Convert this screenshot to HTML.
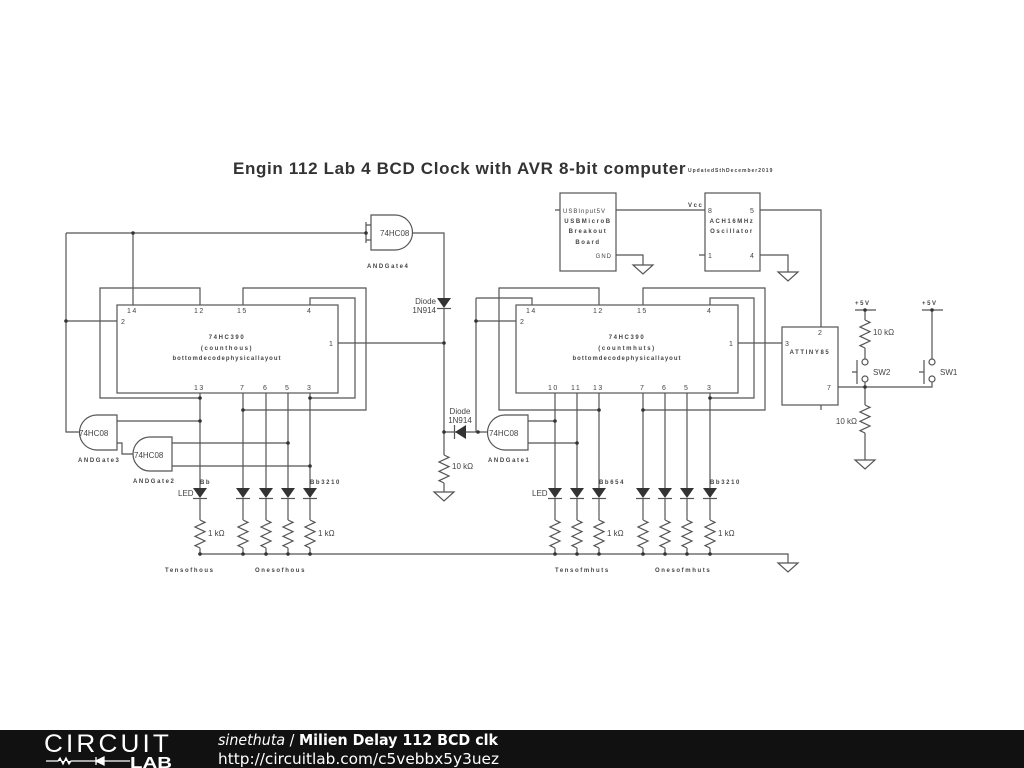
<!DOCTYPE html>
<html><head><meta charset="utf-8"><style>
html,body{margin:0;padding:0;background:#fff;width:1024px;height:768px;overflow:hidden}
svg{display:block}
text{font-family:"Liberation Sans",sans-serif;fill:#444}
.s{font-size:6px;letter-spacing:1.6px;font-weight:bold}
.p{font-size:7px;letter-spacing:1.5px}
.l{font-size:8px}
</style></head><body>
<svg width="1024" height="768" viewBox="0 0 1024 768">
<defs>
<g id="res"><path d="M0 0 l5 2.33 l-10 4.67 l10 4.67 l-10 4.67 l10 4.67 l-10 4.67 l5 2.33" fill="none" stroke="#555" stroke-width="1.2"/></g>
<g id="led"><path d="M-7 0 H7 L0 10 Z" fill="#333"/><path d="M-7 10.5 H7" stroke="#555" stroke-width="1.2"/></g>
<g id="gnd"><path d="M-10 0 H10 L0 9 Z" fill="#fff" stroke="#555" stroke-width="1.2"/></g>
</defs>
<g fill="none" stroke="#555" stroke-width="1.2">
<path d="M66 233 H366 M366 222 V243 M366 225 H371 M366 240 H371"/>
<path d="M371 215 H395 A17.5 17.5 0 0 1 395 250 H371 Z"/>
<path d="M412 233 H444 V298 M444 308 V455 M444 483 V492"/>
<path d="M133 233 V305 M66 233 V432 H79 M66 321 H117"/>
<path d="M200 305 V288 H100 V398 H200"/>
<path d="M243 305 V288 H366 V410 H243"/>
<path d="M310 305 V298 H355 V398 H310"/>
<path d="M338 343 H444"/>
<rect x="117" y="305" width="221" height="88"/>
<path d="M200 393 V488 M243 393 V488 M266 393 V488 M288 393 V488 M310 393 V488"/>
<path d="M117 415 H97 A17.5 17.5 0 0 0 97 450 H117 Z"/>
<path d="M117 421 H200 M117 443 H122 V454 H133"/>
<path d="M172 437 H150 A17 17 0 0 0 150 471 H172 Z"/>
<path d="M172 443 H288 M172 466 H310"/>
<path d="M200 498 V520 M243 498 V520 M266 498 V520 M288 498 V520 M310 498 V520"/>
<path d="M200 548 V554 M243 548 V554 M266 548 V554 M288 548 V554 M310 548 V554"/>
<path d="M200 554 H788 V563"/>
<path d="M444 432 H488"/>
<path d="M476 321 H516 M476 298 H532 V305 M476 298 V432"/>
<path d="M528 415 H505 A17.5 17.5 0 0 0 505 450 H528 Z"/>
<path d="M528 421 H555 M528 443 H577"/>
<rect x="516" y="305" width="222" height="88"/>
<path d="M599 305 V288 H499 V410 H599"/>
<path d="M643 305 V288 H765 V410 H643"/>
<path d="M710 305 V298 H754 V398 H710"/>
<path d="M738 343 H782"/>
<path d="M555 393 V488 M577 393 V488 M599 393 V488 M643 393 V488 M665 393 V488 M687 393 V488 M710 393 V488"/>
<path d="M555 498 V520 M577 498 V520 M599 498 V520 M643 498 V520 M665 498 V520 M687 498 V520 M710 498 V520"/>
<path d="M555 548 V554 M577 548 V554 M599 548 V554 M643 548 V554 M665 548 V554 M687 548 V554 M710 548 V554"/>
<rect x="560" y="193" width="56" height="78"/>
<rect x="705" y="193" width="55" height="78"/>
<path d="M555 210 H560 M616 210 H705 M616 255 H643 V265 M699 255 H705 M760 210 H821 V327 M760 255 H788 V272"/>
<rect x="782" y="327" width="56" height="78"/>
<path d="M821 405 V410 M838 387 H932 V382 M932 359 V310 M922 310 H943 M855 310 H876 M865 310 V320 M865 348 V359 M865 382 V405 M865 433 V460"/>
<circle cx="865" cy="362" r="3" fill="#fff"/><circle cx="865" cy="379" r="3" fill="#fff"/>
<circle cx="932" cy="362" r="3" fill="#fff"/><circle cx="932" cy="379" r="3" fill="#fff"/>
<path d="M857 360 V384 M852 372 H857 M924 360 V384 M919 372 H924"/>
</g>
<path d="M437 298 H451 L444 308 Z" fill="#333"/><path d="M437 308.5 H451" stroke="#555" stroke-width="1.2"/>
<path d="M466 425 V439 L455 432 Z" fill="#333"/><path d="M454.5 425 V439" stroke="#555" stroke-width="1.2"/>
<use href="#res" x="444" y="455"/><use href="#res" x="865" y="320"/><use href="#res" x="865" y="405"/>
<g>
<use href="#led" x="200" y="488"/><use href="#led" x="243" y="488"/><use href="#led" x="266" y="488"/><use href="#led" x="288" y="488"/><use href="#led" x="310" y="488"/>
<use href="#led" x="555" y="488"/><use href="#led" x="577" y="488"/><use href="#led" x="599" y="488"/><use href="#led" x="643" y="488"/><use href="#led" x="665" y="488"/><use href="#led" x="687" y="488"/><use href="#led" x="710" y="488"/>
<use href="#res" x="200" y="520"/><use href="#res" x="243" y="520"/><use href="#res" x="266" y="520"/><use href="#res" x="288" y="520"/><use href="#res" x="310" y="520"/>
<use href="#res" x="555" y="520"/><use href="#res" x="577" y="520"/><use href="#res" x="599" y="520"/><use href="#res" x="643" y="520"/><use href="#res" x="665" y="520"/><use href="#res" x="687" y="520"/><use href="#res" x="710" y="520"/>
</g>
<use href="#gnd" x="444" y="492"/><use href="#gnd" x="788" y="563"/><use href="#gnd" x="643" y="265"/><use href="#gnd" x="788" y="272"/><use href="#gnd" x="865" y="460"/>
<g fill="#333">
<circle cx="133" cy="233" r="1.8"/><circle cx="366" cy="233" r="1.8"/><circle cx="66" cy="321" r="1.8"/><circle cx="444" cy="343" r="1.8"/>
<circle cx="200" cy="398" r="1.8"/><circle cx="243" cy="410" r="1.8"/><circle cx="310" cy="398" r="1.8"/><circle cx="200" cy="421" r="1.8"/>
<circle cx="288" cy="443" r="1.8"/><circle cx="310" cy="466" r="1.8"/><circle cx="444" cy="432" r="1.8"/><circle cx="478" cy="432" r="1.8"/>
<circle cx="476" cy="321" r="1.8"/><circle cx="599" cy="410" r="1.8"/><circle cx="643" cy="410" r="1.8"/><circle cx="710" cy="398" r="1.8"/>
<circle cx="555" cy="421" r="1.8"/><circle cx="577" cy="443" r="1.8"/><circle cx="865" cy="387" r="1.8"/><circle cx="865" cy="310" r="1.8"/><circle cx="932" cy="310" r="1.8"/>
<circle cx="200" cy="554" r="1.8"/><circle cx="243" cy="554" r="1.8"/><circle cx="266" cy="554" r="1.8"/><circle cx="288" cy="554" r="1.8"/><circle cx="310" cy="554" r="1.8"/>
<circle cx="555" cy="554" r="1.8"/><circle cx="577" cy="554" r="1.8"/><circle cx="599" cy="554" r="1.8"/><circle cx="643" cy="554" r="1.8"/><circle cx="665" cy="554" r="1.8"/><circle cx="687" cy="554" r="1.8"/><circle cx="710" cy="554" r="1.8"/>
</g>
<text x="233" y="174" style="font-size:17px;font-weight:bold;fill:#333;letter-spacing:0.65px">Engin 112 Lab 4 BCD Clock with AVR 8-bit computer</text>
<text x="688" y="172" class="s" style="font-size:5px;letter-spacing:1px">UpdatedSthDecember2019</text>
<text x="380" y="236" style="font-size:8px">74HC08</text>
<text x="367" y="268" class="s">ANDGate4</text>
<text x="79" y="436" style="font-size:8px">74HC08</text>
<text x="78" y="462" class="s">ANDGate3</text>
<text x="134" y="458" style="font-size:8px">74HC08</text>
<text x="133" y="483" class="s">ANDGate2</text>
<text x="489" y="436" style="font-size:8px">74HC08</text>
<text x="488" y="462" class="s">ANDGate1</text>
<text x="436" y="304" class="l" text-anchor="end">Diode</text><text x="436" y="313" class="l" text-anchor="end">1N914</text>
<text x="460" y="414" class="l" text-anchor="middle">Diode</text><text x="460" y="423" class="l" text-anchor="middle">1N914</text>
<text x="452" y="469" class="l">10 kΩ</text>
<text x="873" y="335" class="l">10 kΩ</text>
<text x="857" y="424" class="l" text-anchor="end">10 kΩ</text>
<text x="873" y="375" class="l">SW2</text><text x="940" y="375" class="l">SW1</text>
<text x="855" y="305" class="s">+5V</text><text x="922" y="305" class="s">+5V</text>
<text x="208" y="536" class="l">1 kΩ</text><text x="318" y="536" class="l">1 kΩ</text>
<text x="607" y="536" class="l">1 kΩ</text><text x="718" y="536" class="l">1 kΩ</text>
<text x="178" y="496" class="l">LED</text><text x="532" y="496" class="l">LED</text>
<text x="200" y="484" class="s">Bb</text><text x="310" y="484" class="s">Bb3210</text>
<text x="599" y="484" class="s">Bb654</text><text x="710" y="484" class="s">Bb3210</text>
<text x="165" y="572" class="s">Tensofhous</text><text x="255" y="572" class="s">Onesofhous</text>
<text x="555" y="572" class="s">Tensofmhuts</text><text x="655" y="572" class="s">Onesofmhuts</text>
<text x="127" y="313" class="p">14</text><text x="194" y="313" class="p">12</text><text x="237" y="313" class="p">15</text><text x="307" y="313" class="p">4</text>
<text x="121" y="324" class="p">2</text><text x="329" y="346" class="p">1</text>
<text x="194" y="390" class="p">13</text><text x="240" y="390" class="p">7</text><text x="263" y="390" class="p">6</text><text x="285" y="390" class="p">5</text><text x="307" y="390" class="p">3</text>
<text x="227" y="339" class="s" text-anchor="middle">74HC390</text>
<text x="227" y="350" class="s" text-anchor="middle">(counthous)</text>
<text x="227" y="360" class="s" text-anchor="middle" style="letter-spacing:1px">bottomdecodephysicallayout</text>
<text x="526" y="313" class="p">14</text><text x="593" y="313" class="p">12</text><text x="637" y="313" class="p">15</text><text x="707" y="313" class="p">4</text>
<text x="520" y="324" class="p">2</text><text x="729" y="346" class="p">1</text>
<text x="548" y="390" class="p">10</text><text x="571" y="390" class="p">11</text><text x="593" y="390" class="p">13</text><text x="640" y="390" class="p">7</text><text x="662" y="390" class="p">6</text><text x="684" y="390" class="p">5</text><text x="707" y="390" class="p">3</text>
<text x="627" y="339" class="s" text-anchor="middle">74HC390</text>
<text x="627" y="350" class="s" text-anchor="middle">(countmhuts)</text>
<text x="627" y="360" class="s" text-anchor="middle" style="letter-spacing:1px">bottomdecodephysicallayout</text>
<text x="563" y="213" class="p" style="font-size:6px;letter-spacing:1px">USBInput5V</text>
<text x="588" y="223" class="s" text-anchor="middle">USBMicroB</text>
<text x="588" y="233" class="s" text-anchor="middle">Breakout</text>
<text x="588" y="244" class="s" text-anchor="middle">Board</text>
<text x="612" y="258" class="p" style="font-size:6px;letter-spacing:1px" text-anchor="end">GND</text>
<text x="688" y="207" class="s">Vcc</text>
<text x="708" y="213" class="p">8</text><text x="750" y="213" class="p">5</text><text x="708" y="258" class="p">1</text><text x="750" y="258" class="p">4</text>
<text x="732" y="223" class="s" text-anchor="middle">ACH16MHz</text>
<text x="732" y="233" class="s" text-anchor="middle">Oscillator</text>
<text x="785" y="346" class="p">3</text><text x="818" y="335" class="p">2</text><text x="827" y="390" class="p">7</text>
<text x="810" y="354" class="s" text-anchor="middle">ATTINY85</text>
<rect x="0" y="730" width="1024" height="38" fill="#111"/>
<text x="44" y="752" style="font-size:25px;fill:#fff;letter-spacing:3px" textLength="128" lengthAdjust="spacingAndGlyphs">CIRCUIT</text>
<path d="M46 761 H58 l2 -3 l3 6 l3 -6 l3 6 l2 -3 H96 M96 757 V765 M96 761 L104 757 V765 Z M104 757 V765 M104 761 H130" stroke="#fff" stroke-width="1.3" fill="#fff"/>
<text x="130" y="768" style="font-size:16px;fill:#fff;font-weight:bold" textLength="42" lengthAdjust="spacingAndGlyphs">LAB</text>
<text x="218" y="745" style="font-size:15px;fill:#fff;font-family:'DejaVu Sans',sans-serif" textLength="280" lengthAdjust="spacingAndGlyphs"><tspan font-style="italic">sinethuta</tspan> / <tspan font-weight="bold">Milien Delay 112 BCD clk</tspan></text>
<text x="218" y="764" style="font-size:15px;fill:#fff;font-family:'DejaVu Sans',sans-serif" textLength="281" lengthAdjust="spacingAndGlyphs">http://circuitlab.com/c5vebbx5y3uez</text>
</svg>
</body></html>
